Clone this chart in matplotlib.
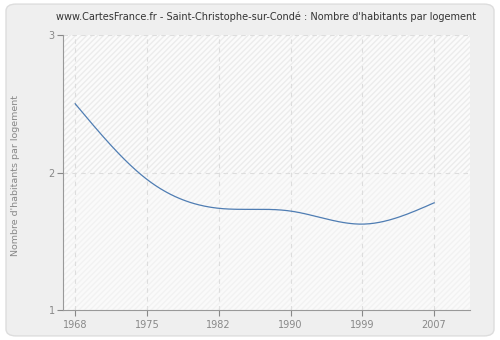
import numpy as np
import matplotlib
matplotlib.use("Agg")
import matplotlib.pyplot as plt
from matplotlib.patches import FancyBboxPatch

# recensements
years = ["1968", "1975", "1982", "1990", "1999", "2007"]
habitants_par_logement = [2.50, 1.95, 1.74, 1.72, 1.625, 1.78]
y_ticks = [1, 2, 3]


def natural_spline(x, y, n=300):
    # spline cubique naturelle pour lisser la courbe
    x = np.asarray(x, float)
    y = np.asarray(y, float)
    k = len(x)
    h = np.diff(x)
    A = np.zeros((k, k))
    b = np.zeros(k)
    A[0, 0] = A[-1, -1] = 1
    for i in range(1, k - 1):
        A[i, i - 1] = h[i - 1]
        A[i, i] = 2 * (h[i - 1] + h[i])
        A[i, i + 1] = h[i]
        b[i] = 3 * ((y[i + 1] - y[i]) / h[i] - (y[i] - y[i - 1]) / h[i - 1])
    c = np.linalg.solve(A, b)
    xs = np.linspace(x[0], x[-1], n)
    ys = np.empty_like(xs)
    for j, t in enumerate(xs):
        i = min(np.searchsorted(x, t, side="right") - 1, k - 2)
        d = t - x[i]
        bi = (y[i + 1] - y[i]) / h[i] - h[i] * (2 * c[i] + c[i + 1]) / 3
        di = (c[i + 1] - c[i]) / (3 * h[i])
        ys[j] = y[i] + bi * d + c[i] * d ** 2 + di * d ** 3
    return xs, ys


fig = plt.figure(figsize=(5, 3.4), dpi=100)
fig.patch.set_facecolor("white")
box = FancyBboxPatch((0.012, 0.012), 0.976, 0.976,
                     boxstyle="round,pad=0,rounding_size=0.02",
                     transform=fig.transFigure, facecolor="#efefef",
                     edgecolor="#dddddd", linewidth=1, zorder=-10)
fig.add_artist(box)

ax = fig.add_axes([0.126, 0.088, 0.814, 0.809])
ax.set_facecolor("#fbfbfb")

x = np.arange(len(years))
ax.set_xlim(-0.17, 5.5)
ax.set_ylim(1, 3)

# bandes hachurées du fond
ax.axhspan(2, 3, facecolor="#fbfbfb", edgecolor="#ececec", hatch="//////",
           linewidth=0, zorder=0)
ax.axhspan(1, 2, facecolor="#fafafa", edgecolor="#f2f2f2", hatch="//////",
           linewidth=0, zorder=0)

for xi in x:
    ax.axvline(xi, color="#dddddd", linestyle=(0, (4, 4)), linewidth=0.8, zorder=1)
ax.axhline(2, color="#dddddd", linestyle=(0, (4, 4)), linewidth=0.8, zorder=1)
ax.axhline(3, color="#dddddd", linestyle=(0, (4, 4)), linewidth=0.8, zorder=1)

xs, ys = natural_spline(x, habitants_par_logement)
ax.plot(xs, ys, color="#4f7db3", linewidth=0.9, zorder=3)

ax.set_xticks(x)
ax.set_xticklabels(years)
ax.set_yticks(y_ticks)
ax.tick_params(colors="#888888", labelsize=7, length=4, width=0.8)
ax.tick_params(axis="y", pad=2)
for side in ("top", "right"):
    ax.spines[side].set_visible(False)
for side in ("left", "bottom"):
    ax.spines[side].set_color("#999999")

ax.set_ylabel("Nombre d'habitants par logement", color="#888888", fontsize=6.8)
ax.yaxis.set_label_coords(-0.105, 0.49)
ax.set_title("www.CartesFrance.fr - Saint-Christophe-sur-Condé : Nombre d'habitants par logement",
             fontsize=7, color="#333333", pad=11)

fig.savefig("out.png", dpi=100, facecolor=fig.get_facecolor())
